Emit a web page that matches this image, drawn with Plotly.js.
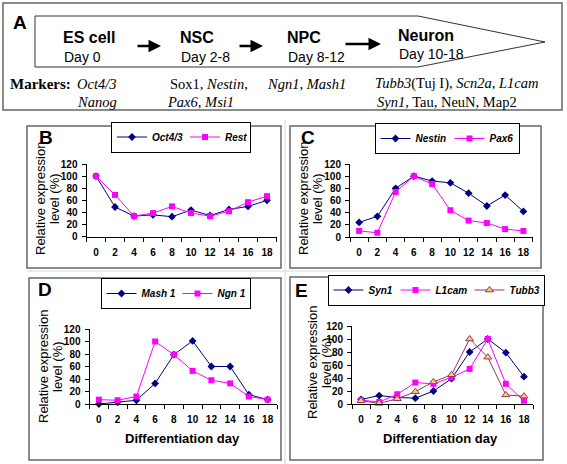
<!DOCTYPE html>
<html>
<head>
<meta charset="utf-8">
<script src="https://cdn.plot.ly/plotly-3.0.1.min.js"></script>
<style>html,body{margin:0;padding:0;background:#fff;}#chart{width:567px;height:464px;}</style>
</head>
<body>
<div id="chart"></div>
<script>
// ---- data ----
const days = [0, 2, 4, 6, 8, 10, 12, 14, 16, 18];
const dayLabels = ['0', '2', '4', '6', '8', '10', '12', '14', '16', '18'];
const yTicks = [0, 20, 40, 60, 80, 100, 120];
const oct43 = [100, 49, 34, 36, 33, 44, 35, 45, 50, 60];
const rest = [100, 69, 34, 39, 50, 39, 34, 42, 57, 67];
const nestin = [24, 34, 80, 100, 92, 89, 72, 51, 69, 42];
const pax6 = [10, 7, 74, 100, 87, 44, 27, 23, 13, 10];
const mash1 = [0, 3, 6, 33, 79, 101, 60, 60, 15, 7];
const ngn1 = [7, 6, 12, 100, 79, 53, 38, 33, 12, 7];
const syn1 = [7, 13, 10, 9, 20, 39, 80, 100, 79, 42];
const l1cam = [6, 3, 15, 33, 31, 41, 54, 100, 31, 5];
const tubb3 = [5, 1, 8, 19, 34, 45, 100, 72, 14, 12];
const stages = ['ES cell', 'NSC', 'NPC', 'Neuron'];
const stageDays = ['Day 0', 'Day 2-8', 'Day 8-12', 'Day 10-18'];

// ---- helpers ----
const W = 567, H = 464;
const px = v => v / W;
const py = v => 1 - v / H;
const AR = 'Arial, "Liberation Sans", sans-serif';
const SERIF = '"Times New Roman", "Liberation Serif", serif';

const navy = {line: {color: '#000080', width: 1}, marker: {symbol: 'diamond', size: 6, color: '#000080'}};
const mag = {line: {color: '#FF00FF', width: 1}, marker: {symbol: 'square', size: 6, color: '#FF00FF'}};
const brown = {line: {color: '#993366', width: 1}, marker: {symbol: 'triangle-up', size: 7, color: '#FFCC66', line: {color: '#993366', width: 1}}};

function tr(y, name, sty, ax, lg, lw) {
  return Object.assign({
    type: 'scatter', mode: 'lines+markers', x: days, y: y, name: name,
    xaxis: 'x' + ax, yaxis: 'y' + ax, legend: lg, cliponaxis: false, legendwidth: lw
  }, JSON.parse(JSON.stringify(sty)));
}

const data = [
  tr(oct43, 'Oct4/3', navy, '', 'legend', 28),
  tr(rest, 'Rest', mag, '', 'legend', 20),
  tr(nestin, 'Nestin', navy, '2', 'legend2', 29),
  tr(pax6, 'Pax6', mag, '2', 'legend2', 24),
  tr(mash1, 'Mash 1', navy, '3', 'legend3', 31),
  tr(ngn1, 'Ngn 1', mag, '3', 'legend3', 27),
  tr(syn1, 'Syn1', navy, '4', 'legend4', 22),
  tr(l1cam, 'L1cam', mag, '4', 'legend4', 29),
  tr(tubb3, 'Tubb3', brown, '4', 'legend4', 29)
];

const tickFont = {family: AR, size: 10, weight: 'bold', color: '#000'};
const minorVals = [-1, 1, 3, 5, 7, 9, 11, 13, 15, 17, 19];
function xax(x0, x1, anchor) {
  return {
    domain: [px(x0), px(x1)], range: [-1, 19], anchor: anchor,
    tickmode: 'array', tickvals: days, ticktext: dayLabels, ticks: '',
    showline: true, linecolor: '#000', linewidth: 1, showgrid: false, zeroline: false,
    tickfont: tickFont, fixedrange: true, ticklabelstandoff: 6,
    minor: {tickmode: 'array', tickvals: minorVals, ticks: 'outside', ticklen: 4, tickcolor: '#000', tickwidth: 1, showgrid: false}
  };
}
function yax(y0, y1, anchor) {
  return {
    domain: [py(y0), py(y1)], range: [0, 120], anchor: anchor,
    tickmode: 'array', tickvals: yTicks, ticks: 'outside', ticklen: 4, tickcolor: '#000',
    showline: true, linecolor: '#000', linewidth: 1, showgrid: false, zeroline: false,
    tickfont: tickFont, fixedrange: true, ticklabelstandoff: 2
  };
}
function lgd(x, y, xa) {
  return {
    orientation: 'h', x: px(x), y: py(y), xanchor: xa || 'center', yanchor: 'middle',
    bgcolor: '#fff', bordercolor: '#000', borderwidth: 1, itemwidth: 30,
    font: {family: AR, size: 10, style: 'italic', weight: 'bold', color: '#000'},
    tracegroupgap: 0
  };
}

const shapes = [];
function rect(x0, y0, x1, y1, col, w) {
  shapes.push({type: 'rect', xref: 'paper', yref: 'paper', x0: px(x0), x1: px(x1), y0: py(y1), y1: py(y0),
    line: {color: col, width: w}, fillcolor: 'rgba(0,0,0,0)', layer: 'above'});
}
function seg(x0, y0, x1, y1, col) {
  shapes.push({type: 'line', xref: 'paper', yref: 'paper', x0: px(x0), x1: px(x1), y0: py(y0), y1: py(y1),
    line: {color: col, width: 1}, layer: 'below'});
}
// faint separators of the original figure
seg(27, 271, 541, 271, '#d8d8d8');
seg(285, 120, 285, 464, '#d8d8d8');
rect(3, 3, 562, 110, '#666', 1.5);
rect(27, 126, 281, 268, '#666', 1.5);
rect(290, 126, 541, 268, '#666', 1.5);
rect(29, 278, 281, 460, '#666', 1.5);
rect(290, 277, 543, 460, '#666', 1.5);
// big stage arrow
const pts = [[35, 16], [418, 16], [545, 42], [418, 67], [35, 67]];
shapes.push({type: 'path', xref: 'paper', yref: 'paper',
  path: 'M' + pts.map(p => px(p[0]) + ',' + py(p[1])).join(' L') + ' Z',
  line: {color: '#333', width: 1}, fillcolor: '#fff', layer: 'below'});

const ann = [];
function txt(t, x, y, size, opts) {
  ann.push(Object.assign({text: t, x: px(x), y: py(y), xref: 'paper', yref: 'paper', showarrow: false,
    xanchor: 'left', yanchor: 'middle', font: Object.assign({family: AR, size: size, color: '#000'}, (opts && opts.font) || {})},
    opts && opts.a ? opts.a : {}));
}
// panel letters
txt('A', 11, 22, 19, {font: {weight: 'bold'}});
txt('B', 37, 137, 19, {font: {weight: 'bold'}});
txt('C', 299, 137, 19, {font: {weight: 'bold'}});
txt('D', 36, 289, 19, {font: {weight: 'bold'}});
txt('E', 293, 290, 19, {font: {weight: 'bold'}});
// stages
const stageX = [61, 178, 285, 396];
const stageY = [37, 37, 37, 35];
const dayY = [57, 57, 57, 54];
stages.forEach((s, i) => {
  txt(s, stageX[i], stageY[i], 16, {font: {weight: 'bold'}});
  txt(stageDays[i], stageX[i] + 1, dayY[i], 14);
});
// small arrows
[[136, 161, 46], [238, 263, 46], [344, 381, 44]].forEach(a => {
  ann.push({text: '', x: px(a[1]), y: py(a[2]), xref: 'paper', yref: 'paper', showarrow: true,
    ax: a[0] - a[1], ay: 0, arrowhead: 2, arrowsize: 1, arrowwidth: 2.5, arrowcolor: '#000'});
});
// markers
const sf = {font: {family: SERIF}};
txt('<b>Markers:</b>', 8, 84, 15, sf);
txt('<i>Oct4/3</i>', 75, 84, 14.5, sf);
txt('<i>Nanog</i>', 75, 102, 14.5, sf);
txt('Sox1, <i>Nestin</i>,', 168, 84, 14.5, sf);
txt('<i>Pax6</i>, <i>Msi1</i>', 165, 102, 14.5, sf);
txt('<i>Ngn1</i>, <i>Mash1</i>', 265, 84, 14.5, sf);
txt('<i>Tubb3</i>(Tuj I), <i>Scn2a, L1cam</i>', 373, 84, 14.5, sf);
txt('<i>Syn1,</i> Tau, NeuN, Map2', 375, 102, 14.5, sf);
// y axis titles
function ytitle(x1, x2, yc) {
  ann.push({text: 'Relative expression', x: px(x1), y: py(yc), xref: 'paper', yref: 'paper', showarrow: false,
    textangle: -90, xanchor: 'center', yanchor: 'middle', font: {family: AR, size: 13, color: '#000'}});
  ann.push({text: 'level (%)', x: px(x2), y: py(yc), xref: 'paper', yref: 'paper', showarrow: false,
    textangle: -90, xanchor: 'center', yanchor: 'middle', font: {family: AR, size: 13, color: '#000'}});
}
ytitle(40, 54, 199);
ytitle(303, 317, 199);
ytitle(43, 57, 367);
ytitle(312, 326, 363);
// x titles
[[182, 438], [440, 438]].forEach(p => {
  ann.push({text: 'Differentiation day', x: px(p[0]), y: py(p[1]), xref: 'paper', yref: 'paper', showarrow: false,
    xanchor: 'center', yanchor: 'middle', font: {family: AR, size: 13, weight: 'bold', color: '#000'}});
});

const layout = {
  width: W, height: H, margin: {l: 0, r: 0, t: 0, b: 0},
  paper_bgcolor: '#fff', plot_bgcolor: '#fff', showlegend: true,
  xaxis: xax(86.5, 276.5, 'y'), yaxis: yax(236.7, 164, 'x'),
  xaxis2: xax(350, 532.5, 'y2'), yaxis2: yax(237, 164, 'x2'),
  xaxis3: xax(89.5, 277, 'y3'), yaxis3: yax(404, 329, 'x3'),
  xaxis4: xax(352, 533, 'y4'), yaxis4: yax(404, 326, 'x4'),
  legend: lgd(181, 137), legend2: lgd(447, 138.5), legend3: lgd(175.5, 293.5), legend4: lgd(436, 290),
  shapes: shapes, annotations: ann
};
Plotly.newPlot('chart', data, layout, {staticPlot: true, displayModeBar: false});
</script>
</body>
</html>
